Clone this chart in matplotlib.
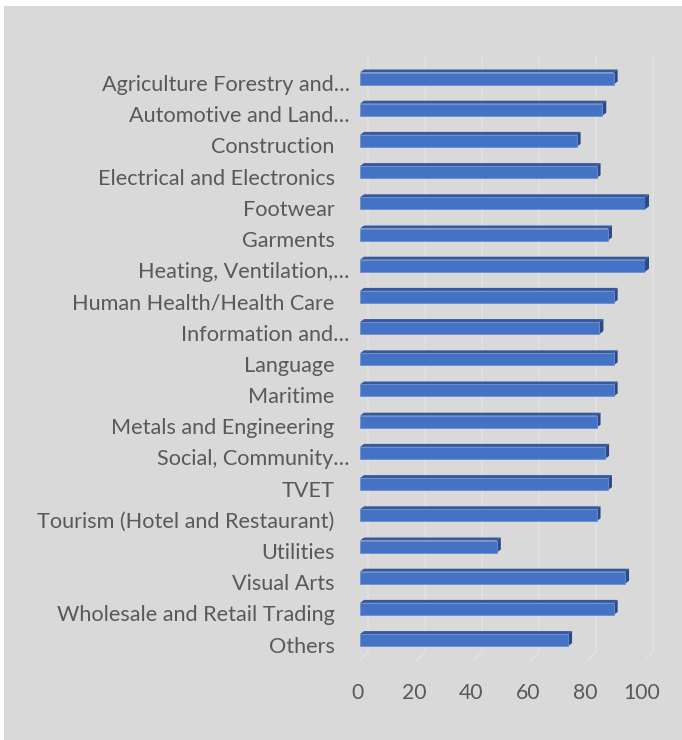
import matplotlib
matplotlib.use("Agg")
import matplotlib.pyplot as plt
import matplotlib.transforms as mtransforms
from matplotlib.patches import Polygon, Rectangle

plt.rcParams['font.family'] = ['Lato', 'DejaVu Sans']

categories = [
    "Agriculture Forestry and\u2026",
    "Automotive and Land\u2026",
    "Construction",
    "Electrical and Electronics",
    "Footwear",
    "Garments",
    "Heating, Ventilation,\u2026",
    "Human Health/Health Care",
    "Information and\u2026",
    "Language",
    "Maritime",
    "Metals and Engineering",
    "Social, Community\u2026",
    "TVET",
    "Tourism (Hotel and Restaurant)",
    "Utilities",
    "Visual Arts",
    "Wholesale and Retail Trading",
    "Others",
]
values = [89, 85, 76, 83, 100, 87, 100, 89, 84, 89, 89, 83, 86, 87, 83, 48, 93, 89, 73]
xticks = [0, 20, 40, 60, 80, 100]

W, H = 682, 740
fig = plt.figure(figsize=(W / 100, H / 100), dpi=100, facecolor="white")
fig.patches.append(Rectangle((4 / W, 0), 1 - 4 / W, 1 - 6 / H, transform=fig.transFigure,
                             facecolor="#d9d9d9", edgecolor="none", zorder=-10))

ax_left, ax_right = 360, 645
ax_top, ax_bot = 67.4, 660.2
ax = fig.add_axes([ax_left / W, 1 - ax_bot / H, (ax_right - ax_left) / W, (ax_bot - ax_top) / H])
ax.set_facecolor("none")
n = len(categories)
ax.set_xlim(0, 100)
ax.set_ylim(n - 0.5, -0.5)

px_x = 100 / (ax_right - ax_left)          # data units per pixel (x)
px_y = n / (ax_bot - ax_top)               # data units per pixel (y)
dx = 4 * px_x                              # bar depth, horizontal
dy = 3 * px_y                              # bar depth, vertical (upwards)
grid_dx = 8 * px_x
grid_top = -0.5 - 11 * px_y
grid_floor = n - 0.5 - 8 * px_y

# back wall gridlines and floor edges
for t in xticks:
    ax.plot([t + grid_dx, t + grid_dx, t], [grid_top, grid_floor, n - 0.5],
            color="#e3e3e3", lw=1, clip_on=False, zorder=1)

front_c = "#4472c4"
top_c = "#34599f"
side_c = "#2b4a85"
h = 12 * px_y
shift = 4.5 * px_y
for i, v in enumerate(values):
    c = i - shift
    y0, y1 = c - h / 2, c + h / 2
    ax.add_patch(Polygon([(0, y0), (v, y0), (v + dx, y0 - dy), (dx, y0 - dy)],
                         closed=True, facecolor=top_c, edgecolor="none", zorder=3, clip_on=False))
    ax.add_patch(Polygon([(v, y0), (v + dx, y0 - dy), (v + dx, y1 - dy), (v, y1)],
                         closed=True, facecolor=side_c, edgecolor="none", zorder=3, clip_on=False))
    ax.barh(c, v, height=h, left=0, color=front_c, edgecolor="#6d8fd0", linewidth=0.6, zorder=4)

for s in ax.spines.values():
    s.set_visible(False)
ax.set_yticks(range(n))
ax.set_yticklabels(categories, fontsize=15.6, color="#595959")
ax.set_xticks(xticks)
ax.set_xticklabels([str(t) for t in xticks], fontsize=15.2, color="#595959")
ax.tick_params(axis="y", length=0, pad=7.5)
ax.tick_params(axis="x", length=0, pad=16.5)

# full-length names sit a little further from the bars than truncated ones
for lbl in ax.get_yticklabels():
    if not lbl.get_text().endswith("\u2026"):
        lbl.set_transform(lbl.get_transform() +
                          mtransforms.ScaledTranslation(-15 / 100, 0, fig.dpi_scale_trans))
for lbl in ax.get_xticklabels():
    lbl.set_transform(lbl.get_transform() +
                      mtransforms.ScaledTranslation(-3 / 100, 0, fig.dpi_scale_trans))

fig.savefig("out.png", dpi=100, facecolor="white")
